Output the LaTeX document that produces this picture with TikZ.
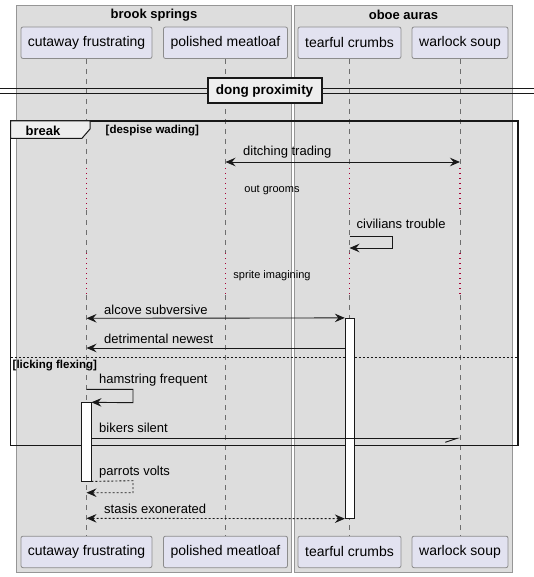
\documentclass[tikz,border=0pt]{standalone}
\usepackage{fontspec}
\setmainfont{Liberation Sans}
\usetikzlibrary{arrows.meta}
\definecolor{grpfill}{RGB}{221,221,221}
\definecolor{grpline}{RGB}{150,150,150}
\definecolor{partfill}{RGB}{226,226,240}
\definecolor{partline}{RGB}{140,140,140}
\definecolor{lifecol}{RGB}{110,110,110}
\definecolor{delayred}{RGB}{168,0,54}
\definecolor{tabfill}{RGB}{238,238,238}
\definecolor{ink}{RGB}{24,24,24}
\tikzset{
  grpbox/.style={draw=grpline,fill=grpfill,line width=0.8pt},
  grptitle/.style={font=\fontsize{13}{15}\selectfont\bfseries,inner sep=0pt},
  part/.style={draw=partline,fill=partfill,rounded corners=2pt,line width=0.8pt,
    minimum height=31.5pt,inner sep=0pt,font=\fontsize{14}{16}\selectfont},
  life/.style={draw=lifecol,dash pattern=on 5pt off 5pt,line width=0.6pt},
  delayline/.style={draw=delayred,dash pattern=on 1.4pt off 3.6pt,line width=1.4pt},
  act/.style={draw=ink,fill=white,line width=0.8pt,minimum width=9.5pt,inner sep=0pt},
  tip/.style={-{Stealth[length=10pt,width=8.5pt,inset=3.5pt]}},
  biptip/.style={{Stealth[length=10pt,width=8.5pt,inset=3.5pt]}-{Stealth[length=10pt,width=8.5pt,inset=3.5pt]}},
  msg/.style={draw=ink,line width=0.9pt},
  rmsg/.style={draw=ink,line width=0.9pt,dash pattern=on 2pt off 2pt},
  lbl/.style={anchor=west,inner sep=0pt,font=\fontsize{13}{15}\selectfont},
  dlbl/.style={inner sep=0pt,font=\fontsize{11}{13}\selectfont},
  guard/.style={anchor=west,inner sep=0pt,font=\fontsize{11.5}{13}\selectfont\bfseries},
}
\begin{document}
\begin{tikzpicture}[x=1pt,y=-1pt]
\useasboundingbox (0,0) rectangle (534,577);
% group boxes
\draw[grpbox] (16.5,5.5) rectangle (291.5,572);
\draw[grpbox] (294,5.5) rectangle (512.5,572);
\node[grptitle] (g1) at (154,15) {brook springs};
\node[grptitle] (g2) at (403.5,15) {oboe auras};
% participants
\node[part,minimum width=131pt] (cf) at (86.5,42.75) {cutaway frustrating};
\node[part,minimum width=124pt] (pm) at (225.5,42.75) {polished meatloaf};
\node[part,minimum width=103pt] (tc) at (349.5,42.75) {tearful crumbs};
\node[part,minimum width=96pt] (ws) at (460,42.75) {warlock soup};
\node[part,minimum width=131pt] (cfb) at (86.5,551.9) {cutaway frustrating};
\node[part,minimum width=124pt] (pmb) at (225.5,551.9) {polished meatloaf};
\node[part,minimum width=103pt] (tcb) at (349.5,551.9) {tearful crumbs};
\node[part,minimum width=96pt] (wsb) at (460,551.9) {warlock soup};
% lifelines
\foreach \p in {cf,pm,tc,ws}{
  \coordinate (\p d1) at (\p.south |- 0,168);
  \coordinate (\p d2) at (\p.south |- 0,210);
  \coordinate (\p d3) at (\p.south |- 0,253);
  \coordinate (\p d4) at (\p.south |- 0,295);
  \draw[life] (\p.south) -- (\p d1);
  \draw[delayline] (\p d1) -- (\p d2);
  \draw[life] (\p d2) -- (\p d3);
  \draw[delayline] (\p d3) -- (\p d4);
  \draw[life] (\p d4) -- (\p b.north);
}
% divider
\coordinate (dvl) at (0,89);
\coordinate (dvr) at (534,89);
\coordinate (dvl2) at (0,93.3);
\coordinate (dvr2) at (534,93.3);
\draw[ink,line width=1pt] (dvl) -- (dvr);
\draw[ink,line width=1pt] (dvl2) -- (dvr2);
\node[draw=ink,fill=tabfill,line width=2pt,minimum width=114pt,minimum height=25pt,inner sep=0pt,
  font=\fontsize{13.5}{15}\selectfont\bfseries] (dv) at (264.5,90.8) {dong proximity};
% break frame
\draw[ink,line width=1.5pt] (10.5,121) rectangle (518,445.7);
\draw[ink,fill=tabfill,line width=1pt] (10.5,121) -- (90,121) -- (90,129) -- (82,138.3) -- (10.5,138.3) -- cycle;
\node[inner sep=0pt,font=\fontsize{13}{15}\selectfont\bfseries] (brk) at (43,130.5) {break};
\node[guard] (g1t) at (105.5,130.5) {[despise wading]};
\coordinate (sepl) at (10.5,357.3);
\coordinate (sepr) at (518,357.3);
\draw[ink,line width=0.7pt,dash pattern=on 2pt off 2pt] (sepl) -- (sepr);
\node[guard] (g2t) at (12.5,366) {[licking flexing]};
% activations
\node[act,minimum height=200pt] (ta) at (350,418.3) {};
\node[act,minimum height=78.3pt] (ca) at (86.3,441.85) {};
% messages
\coordinate (m1a) at (pm.south |- 0,162);
\coordinate (m1b) at (ws.south |- 0,162);
\draw[msg,biptip] (m1a) -- (m1b);
\node[lbl] (l1) at (243,152) {ditching trading};
\node[dlbl] (d1) at (272,190) {out grooms};
\coordinate (m2a) at (tc.south |- 0,236);
\coordinate (m2b) at (392,236);
\coordinate (m2c) at (392,248);
\coordinate (m2d) at (tc.south |- 0,248);
\draw[msg,tip] (m2a) -- (m2b) -- (m2c) -- (m2d);
\node[lbl] (l2) at (356.5,223.7) {civilians trouble};
\node[dlbl] (d2) at (272,276) {sprite imagining};
\coordinate (m3a) at (cf.south |- 0,318.3);
\draw[msg,biptip] (m3a) -- (ta.north west);
\node[lbl] (l3) at (104,310) {alcove subversive};
\coordinate (m4a) at (ta.west |- 0,348);
\coordinate (m4b) at (cf.south |- 0,348);
\draw[msg,tip] (m4a) -- (m4b);
\node[lbl] (l4) at (104,339) {detrimental newest};
\coordinate (m5a) at (cf.south |- 0,389.3);
\coordinate (m5b) at (133,389.3);
\coordinate (m5c) at (133,402.7);
\draw[msg,tip] (m5a) -- (m5b) -- (m5c) -- (ca.north east);
\node[lbl] (l5) at (99,380) {hamstring frequent};
\coordinate (m6a) at (ca.east |- 0,438.3);
\coordinate (m6b) at (ws.south |- 0,438.3);
\draw[msg,-{Straight Barb[harpoon,swap,length=12pt,width=8pt]}] (m6a) -- (m6b);
\node[lbl] (l6) at (99,427.7) {bikers silent};
\coordinate (m7b) at (133,480.7);
\coordinate (m7c) at (133,492.7);
\coordinate (m7d) at (cf.south |- 0,492.7);
\draw[rmsg,tip] (ca.south east) -- (m7b) -- (m7c) -- (m7d);
\node[lbl] (l7) at (99,471.7) {parrots volts};
\coordinate (m8a) at (cf.south |- 0,518.3);
\draw[rmsg,biptip] (m8a) -- (ta.south west);
\node[lbl] (l8) at (104,509.3) {stasis exonerated};
\end{tikzpicture}
\end{document}
